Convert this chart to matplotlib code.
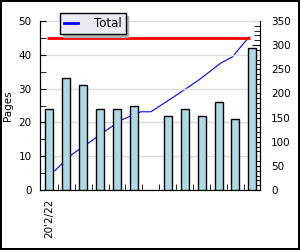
import numpy as np
import matplotlib
matplotlib.use("Agg")
from matplotlib import pyplot as plt
from matplotlib.ticker import MultipleLocator, FixedLocator

# Dados do gráfico
dias = ["20'2/22"] + [""] * 12
paginas = [24, 33, 31, 24, 24, 25, 0, 22, 24, 22, 26, 21, 42]
meta = 45  # linha vermelha (eixo esquerdo)

# Total acumulado (eixo direito)
total_x = [0.33, 1.27, 2.34, 3.34, 4.33, 5.41, 6.0, 7.36, 8.84, 10.14, 10.83, 11.32, 11.81]
total_y = [40, 72, 98, 123, 146, 162, 162, 193, 228, 263, 276, 297, 317]

plt.rcParams["font.family"] = "DejaVu Sans"
plt.rcParams["font.size"] = 7.5

fig = plt.figure(figsize=(3, 2.5), dpi=100)
fig.patch.set_edgecolor("black")
fig.patch.set_linewidth(1.5)

ax = fig.add_axes([0.1333, 0.24, 0.7334, 0.676])
ax2 = ax.twinx()
ax.set_zorder(ax2.get_zorder() + 1)
ax.patch.set_visible(False)

pos = np.arange(len(paginas))
mask = np.array(paginas) > 0
ax.bar(pos[mask], np.array(paginas)[mask], width=0.47, color="#add8e6",
       edgecolor="black", linewidth=1, zorder=3)
ax.hlines(meta, -0.15, 11.87, color="red", linewidth=2, zorder=4)

linha, = ax2.plot(total_x, total_y, color="blue", linewidth=0.8, label="Total")

ax.set_xlim(-0.55, 12.45)
ax.set_ylim(0, 50)
ax2.set_ylim(0, 350)

ax.yaxis.set_major_locator(MultipleLocator(10))
ax.yaxis.set_minor_locator(MultipleLocator(5))
ax.grid(axis="y", color="#dcdcdc", linewidth=1, zorder=0)
ax.tick_params(axis="y", which="both", direction="in", length=4, pad=6)
ax.set_ylabel("Pages", labelpad=4)

ax.set_xticks([0])
ax.set_xticklabels([dias[0]], rotation=90)
ax.xaxis.set_minor_locator(FixedLocator(pos[:-1] + 0.5))
ax.tick_params(axis="x", which="major", length=0, pad=6)
ax.tick_params(axis="x", which="minor", direction="in", length=4)

ax2.yaxis.set_major_locator(MultipleLocator(50))
ax2.yaxis.set_minor_locator(MultipleLocator(10))
ax2.tick_params(axis="y", which="major", direction="in", length=6, pad=8)
ax2.tick_params(axis="y", which="minor", direction="in", length=4)

for a in (ax, ax2):
    a.spines["top"].set_visible(False)

leg = fig.legend(handles=[linha], loc="upper left", bbox_to_anchor=(0.2, 0.948),
                 frameon=True, fancybox=False, shadow={"color": "#b0b0b0", "alpha": 1},
                 fontsize=8.5, handlelength=1.2, borderpad=0.35, borderaxespad=0,
                 handletextpad=1.3)
leg.get_frame().set_facecolor("#ebe9f2")
leg.get_frame().set_edgecolor("black")
leg.get_frame().set_alpha(1)
leg.get_lines()[0].set_linewidth(2)

fig.savefig("out.png", dpi=100, edgecolor=fig.get_edgecolor())
